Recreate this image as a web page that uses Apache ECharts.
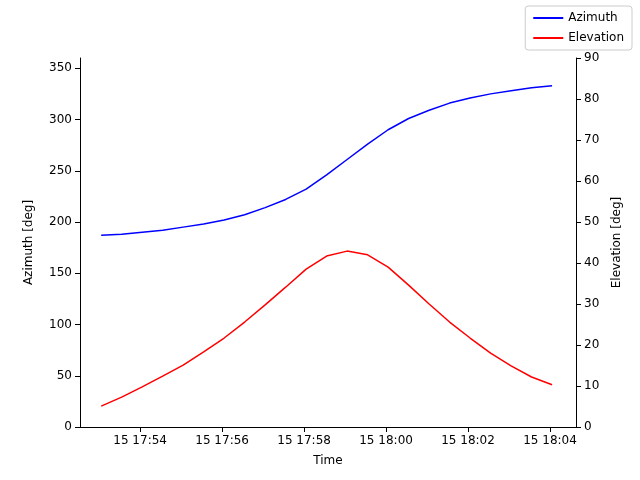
<!DOCTYPE html>
<html><head><meta charset="utf-8">
<script src="https://cdn.jsdelivr.net/npm/echarts@6/dist/echarts.min.js"></script>
<style>html,body{margin:0;padding:0;background:#fff}#c{width:640px;height:480px}</style>
</head><body><div id="c"></div>
<script>
const startTime = '2024-01-15T17:53:03';
const stepSeconds = 30;
const azimuth = [187,188,190,192,195,198,202,207,214,222,232,246,261,276,290,301,309,316,321,325,328,331,333];
const elevation = [5.1,7.3,9.8,12.4,15.1,18.3,21.7,25.6,29.8,34.1,38.5,41.7,42.9,42.0,39.0,34.6,30.0,25.6,21.7,18.0,14.9,12.2,10.3];
const t0 = new Date(startTime).getTime();
const times = azimuth.map((_, i) => t0 + i * stepSeconds * 1000);
const pad = n => String(n).padStart(2, '0');
const font = 'DejaVu Sans';
const chart = echarts.init(document.getElementById('c'));
chart.setOption({
  animation: false,
  textStyle: {fontFamily: font},
  grid: {left: 80, right: 64, top: 58, bottom: 53},
  legend: {
    right: 8, top: 6, orient: 'vertical', itemWidth: 30, itemHeight: 2, itemGap: 8,
    icon: 'rect', borderColor: '#ccc', borderWidth: 1, borderRadius: 3, padding: [6, 8],
    textStyle: {fontSize: 12, color: '#000', fontFamily: font},
    data: ['Azimuth', 'Elevation']
  },
  xAxis: {
    type: 'time', name: 'Time', nameLocation: 'middle', nameGap: 28,
    nameTextStyle: {fontSize: 12, color: '#000'},
    min: t0 - 31 * 1000, max: times[times.length - 1] + 35 * 1000,
    minInterval: 300000, maxInterval: 300000,
    axisLine: {onZero: false, lineStyle: {color: '#000'}},
    axisTick: {show: true, lineStyle: {color: '#000'}},
    splitLine: {show: false},
    axisLabel: {color: '#000', fontSize: 12, showMinLabel: false, showMaxLabel: false,
      formatter: v => { const d = new Date(v); return '15 ' + pad(d.getHours()) + ':' + pad(d.getMinutes()); }}
  },
  yAxis: [{
    type: 'value', min: 0, max: 360, interval: 50, name: 'Azimuth [deg]', nameLocation: 'middle', nameGap: 45,
    nameTextStyle: {fontSize: 12, color: '#000'},
    axisLine: {show: true, lineStyle: {color: '#000'}}, axisTick: {show: true},
    splitLine: {show: false}, axisLabel: {color: '#000', fontSize: 12, showMaxLabel: false}
  }, {
    type: 'value', min: 0, max: 90, interval: 10, name: 'Elevation [deg]', nameLocation: 'middle', nameGap: 35,
    nameTextStyle: {fontSize: 12, color: '#000'},
    axisLine: {show: true, lineStyle: {color: '#000'}}, axisTick: {show: true},
    splitLine: {show: false}, axisLabel: {color: '#000', fontSize: 12}
  }],
  series: [{
    name: 'Azimuth', type: 'line', yAxisIndex: 0, showSymbol: false, color: '#0000ff',
    lineStyle: {width: 1.5}, data: times.map((t, i) => [t, azimuth[i]])
  }, {
    name: 'Elevation', type: 'line', yAxisIndex: 1, showSymbol: false, color: '#ff0000',
    lineStyle: {width: 1.5}, data: times.map((t, i) => [t, elevation[i]])
  }]
});
</script></body></html>
